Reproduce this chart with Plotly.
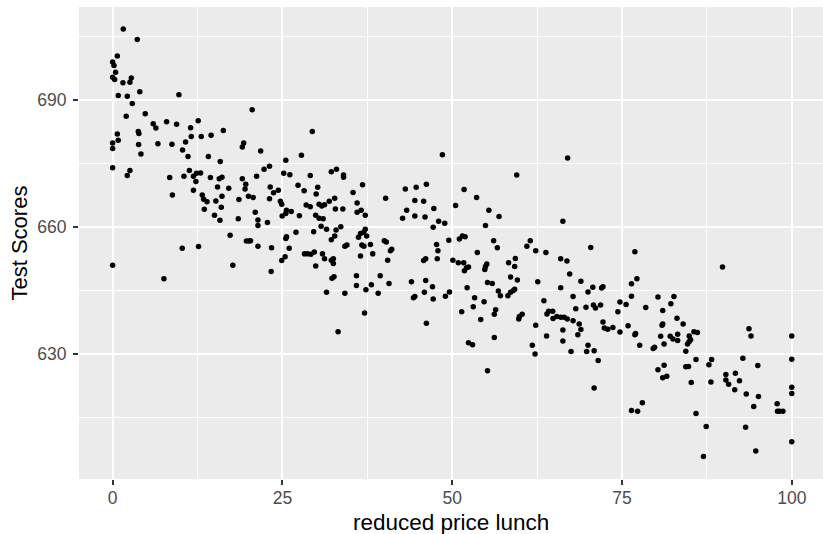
import plotly.graph_objects as go

# Percentage of students eligible for reduced price lunch, per school district
meal_pct = [
    1.57, 3.63, 0.69, 0, 0.2, 0.44, 0, 0.3, 1.52, 2.75, 2.55, 4.0, 0.83, 2.16, 2.9, 9.76,
    2.0, 4.8, 20.55, 5.98, 6.37, 7.95, 9.42, 12.6, 11.48, 16.3, 0.69, 0.83, 0, 0, 3.78, 3.87,
    3.83, 4.17, 6.67, 8.73, 10.74, 11.58, 13.05, 14.5, 10.3, 11.1, 14.1, 15.85, 19.3, 19.1, 21.8,
    0, 2.55, 2.16, 8.4, 8.8, 10.5, 11.3, 11.9, 12.35, 12.95, 12.26, 11.9, 14.4, 15.7, 16.1,
    15.45, 17.1, 16.1, 13.2, 13.4, 13.9, 15.2, 13.5, 16.0, 15.0, 15.8, 18.6, 19.1, 19.6, 19.5,
    20.0, 20.7, 21.2, 18.5, 21.0, 21.4, 21.4,
    29.4, 27.8, 25.5, 22.3, 23.1, 25.2, 26.1, 29.1, 32.2, 32.96, 34.0, 34.0, 23.1, 23.2, 23.7,
    24.4, 24.7, 24.9, 22.8, 24.97, 25.6, 25.5, 26.3, 27.5, 27.3, 28.2, 30.2, 29.97, 28.5, 29.1,
    30.4, 30.8, 31.2, 31.9, 32.7, 29.9, 30.4, 31.0, 32.8, 33.9, 35.4, 36.8, 36.0, 36.0, 36.6,
    37.2, 30.7, 33.6, 40.2, 43.1, 44.7, 46.2, 44.5, 45.8, 43.3, 42.7, 44.5, 46.0, 47.3, 47.2,
    48.0,
    48.56, 67.0, 59.5, 51.75, 53.6, 50.5, 55.4, 56.9, 48.9, 54.9, 66.3,
    0, 7.55, 10.25, 12.65, 17.3, 17.7, 19.7, 20.1,
    20.3, 21.4, 23.4, 23.35, 25.5, 25.6, 27.0, 26.0, 25.4, 24.9, 28.25, 28.7, 29.2, 29.7, 29.9,
    29.6, 31.5, 30.9, 31.2, 32.2, 32.7, 32.9, 32.2, 32.5, 32.5, 32.3, 32.6, 31.5, 34.2, 33.2,
    34.2, 34.5, 36.2, 36.5, 36.98, 37.2, 37.4, 36.7, 37.0, 37.96, 36.5, 38.3, 35.9, 35.9, 37.3,
    38.1, 37.1, 39.4, 39.1, 40.7, 40.0, 40.3, 41.1, 40.9, 40.5, 44.0, 46.1, 47.1, 45.9, 44.5,
    44.3, 47.2, 46.2, 45.8, 46.1, 47.7, 47.8, 47.9,
    49.5, 50.1, 50.9, 51.7, 51.06, 51.5, 51.9, 51.8, 52.1, 52.4, 52.2, 49.6, 49.0, 51.4, 52.4,
    53.0, 53.3, 53.1, 54.2, 53.7, 54.7, 54.9, 55.1, 54.8, 55.2, 55.9, 56.1, 56.65, 56.4, 56.2,
    56.2, 55.2, 56.8, 57.1, 58.2, 58.6, 59.0, 59.2, 58.3, 58.6, 59.3, 59.2, 59.6, 59.9, 59.8,
    60.3, 61.0, 61.5, 62.3, 63.8, 62.6, 62.3, 61.8, 62.2, 63.5, 63.95, 64.2, 64.8, 64.85, 65.4,
    66.0, 66.5, 66.95, 67.8, 63.9, 66.3, 66.3, 67.5, 65.97, 66.9, 65.97, 67.3, 67.8, 68.2, 68.7,
    68.95, 68.5, 68.95, 70.0, 70.7, 69.7, 70.8, 71.1, 71.85, 70.0, 69.8, 70.9, 71.5, 70.9, 70.4,
    72.0, 72.2, 72.2, 72.4, 72.9, 73.66, 74.4, 74.7, 74.7,
    76.9, 77.2, 76.4, 76.4, 75.6, 75.9, 76.9, 77.0, 77.6, 79.6, 79.8, 78.5, 80.3, 81.0, 80.9,
    81.0, 80.7, 81.2, 82.2, 82.65, 83.1, 83.2, 83.2, 82.1, 82.5, 84.0, 84.9, 85.1, 84.65, 84.9,
    84.4, 85.6, 86.1, 80.3, 81.2, 81.0, 81.6, 84.4, 84.8, 85.2, 85.9, 78.0, 76.4, 77.3, 85.9,
    87.4, 87.0, 87.8, 88.2, 88.1, 89.8, 92.8, 93.7, 94.0, 95.0, 90.3, 91.7, 90.3, 90.7, 92.3,
    91.6, 93.3, 95.1, 94.4, 93.2, 94.7, 97.85, 97.9, 98.2, 98.7, 100, 100, 100, 100, 100,
]

# Average test score of the same districts, in the same order
test_score = [
    706.7, 704.2, 700.3, 698.9, 698.1, 696.5, 695.3, 694.8, 694.0, 695.1, 694.1, 691.9, 691.0,
    690.8, 689.1, 691.2, 686.1, 686.7, 687.6, 684.3, 683.3, 684.8, 684.2, 685.0, 683.4, 682.7,
    681.9, 680.4, 679.8, 678.5, 682.5, 682.0, 679.4, 677.2, 679.6, 679.5, 680.0, 681.3, 681.3,
    681.6, 678.1, 676.6, 676.6, 675.4, 679.8, 678.8, 677.9,
    673.9, 673.3, 672.1, 671.6, 667.5, 671.9, 673.3, 671.9, 672.6, 672.7, 670.7, 668.6, 671.6,
    671.3, 671.7, 669.4, 669.1, 667.2, 667.5, 666.5, 665.9, 666.1, 664.1, 664.6, 662.7, 661.5,
    666.4, 671.3, 670.0, 668.9, 667.2, 666.9, 671.9, 661.9, 663.4, 661.6, 660.3,
    682.5, 676.9, 675.7, 673.6, 674.3, 672.6, 672.3, 672.1, 673.0, 673.6, 672.2, 671.7, 666.6,
    669.4, 668.0, 668.6, 666.0, 665.3, 661.0, 662.5, 663.9, 663.1, 663.6, 662.6, 669.8, 668.5,
    669.3, 667.7, 665.1, 664.7, 665.3, 664.9, 665.2, 666.0, 666.7, 662.7, 662.0, 661.9, 664.2,
    664.2, 668.1, 669.9, 665.6, 663.4, 663.9, 662.7, 660.1, 660.0, 666.7, 668.9, 669.3, 670.0,
    666.2, 666.0, 663.9, 662.0, 662.5, 662.3, 664.3, 659.9, 661.3,
    677.0, 676.2, 672.2, 668.8, 666.9, 665.0, 663.9, 662.4, 660.8, 660.3, 661.3,
    650.9, 647.7, 654.9, 655.3, 658.0, 650.9, 656.6, 656.6,
    656.7, 655.4, 655.0, 649.4, 657.2, 657.6, 658.7, 654.9, 652.9, 652.0, 653.6, 653.6, 653.5,
    654.0, 650.7, 658.8, 659.4, 653.6, 652.4, 656.9, 657.8, 659.2, 652.1, 652.4, 651.3, 647.8,
    648.2, 644.5, 644.3, 635.2, 655.4, 655.7, 657.5, 658.4, 658.7, 659.4, 657.8, 655.7, 655.4,
    655.8, 653.1, 653.6, 648.4, 646.1, 645.1, 646.3, 639.6, 648.4, 644.3, 646.6, 656.7, 656.4,
    654.7, 654.3, 652.1, 647.0, 647.3, 645.8, 644.5, 643.5, 643.2, 642.9, 637.2, 652.0, 652.4,
    655.8, 652.4, 654.3,
    656.8, 652.1, 651.5, 651.5, 657.1, 657.8, 657.6, 649.6, 650.3, 650.5, 645.6, 644.6, 643.6,
    639.9, 632.6, 632.1, 643.2, 641.1, 638.1, 653.9, 642.3, 650.6, 651.2, 649.9, 646.8, 646.6,
    656.7, 655.0, 640.4, 639.3, 633.8, 626.0, 644.8, 643.7, 643.7, 644.5, 644.9, 645.2, 651.5,
    648.1, 652.5, 650.6, 647.4, 638.8, 638.2, 639.3, 655.4, 656.7, 654.3, 653.9, 647.0, 636.7,
    632.0, 629.9, 642.5, 639.4, 640.0, 640.0, 638.3, 638.8, 638.6, 638.6, 638.2, 637.8, 634.2,
    635.6, 633.0, 630.5, 652.4, 651.9, 645.6, 648.8, 643.5, 640.6, 637.0, 635.7, 634.5, 647.1,
    644.6, 645.7, 641.0, 641.5, 640.8, 641.5, 632.0, 630.5, 630.7, 628.4, 621.9, 655.1, 645.5,
    645.8, 637.5, 636.1, 635.8, 636.2, 639.9, 642.2, 635.1,
    654.1, 647.7, 646.5, 643.6, 641.6, 636.6, 634.5, 634.8, 632.0, 631.2, 631.5, 640.9, 643.4,
    640.2, 636.7, 637.0, 634.1, 632.3, 641.8, 643.5, 638.4, 634.6, 633.1, 634.1, 633.5, 637.0,
    634.2, 633.3, 632.3, 632.9, 630.6, 635.2, 635.0, 626.2, 627.3, 624.3, 624.7, 626.9, 627.0,
    623.2, 628.6, 618.4, 616.6, 616.4, 615.9, 612.8, 605.7, 627.4, 628.6, 623.3, 650.5, 628.9,
    635.9, 634.2, 627.2, 625.1, 625.4, 623.8, 622.8, 623.6, 621.5, 620.5, 619.9, 617.5, 612.6,
    607.0, 618.2, 616.4, 616.4, 616.4, 634.2, 628.7, 622.1, 620.6, 609.2,
]

x_ticks = [0, 25, 50, 75, 100]
y_ticks = [630, 660, 690]

FONT = "Liberation Sans, Arial, Helvetica, sans-serif"
PANEL = "#EBEBEB"

fig = go.Figure(
    go.Scatter(
        x=meal_pct,
        y=test_score,
        mode="markers",
        marker=dict(color="black", size=5.5, line=dict(width=0)),
        hoverinfo="x+y",
    )
)

axis_common = dict(
    showgrid=True,
    gridcolor="white",
    gridwidth=2,
    zeroline=False,
    showline=False,
    ticks="outside",
    ticklen=5,
    tickwidth=2,
    tickcolor="#333333",
    tickfont=dict(family=FONT, size=17.5, color="#4D4D4D"),
)

fig.update_xaxes(
    **axis_common,
    range=[-4.95, 104.6],
    tickmode="array",
    tickvals=x_ticks,
    ticktext=[str(v) for v in x_ticks],
    ticklabelstandoff=-2,
    minor=dict(dtick=12.5, tick0=0, showgrid=True, gridcolor="white", gridwidth=1, ticks=""),
)
fig.update_yaxes(
    **axis_common,
    range=[600.4, 711.9],
    tickmode="array",
    tickvals=y_ticks,
    ticktext=[str(v) for v in y_ticks],
    ticklabelstandoff=3,
    minor=dict(dtick=15, tick0=600, showgrid=True, gridcolor="white", gridwidth=1, ticks=""),
)

fig.update_layout(
    width=823,
    height=534,
    margin=dict(l=79, r=0, t=7, b=55),
    paper_bgcolor="white",
    plot_bgcolor=PANEL,
    showlegend=False,
    font=dict(family=FONT),
    annotations=[
        dict(
            text="reduced price lunch",
            xref="paper", yref="paper",
            x=0.5, y=-0.093,
            xanchor="center", yanchor="middle",
            showarrow=False,
            font=dict(family=FONT, size=22.5, color="black"),
        ),
        dict(
            text="Test Scores",
            xref="paper", yref="paper",
            x=-0.0813, y=0.5,
            xanchor="center", yanchor="middle",
            textangle=-90,
            showarrow=False,
            font=dict(family=FONT, size=22, color="black"),
        ),
    ],
)

fig.write_html("out.html")
